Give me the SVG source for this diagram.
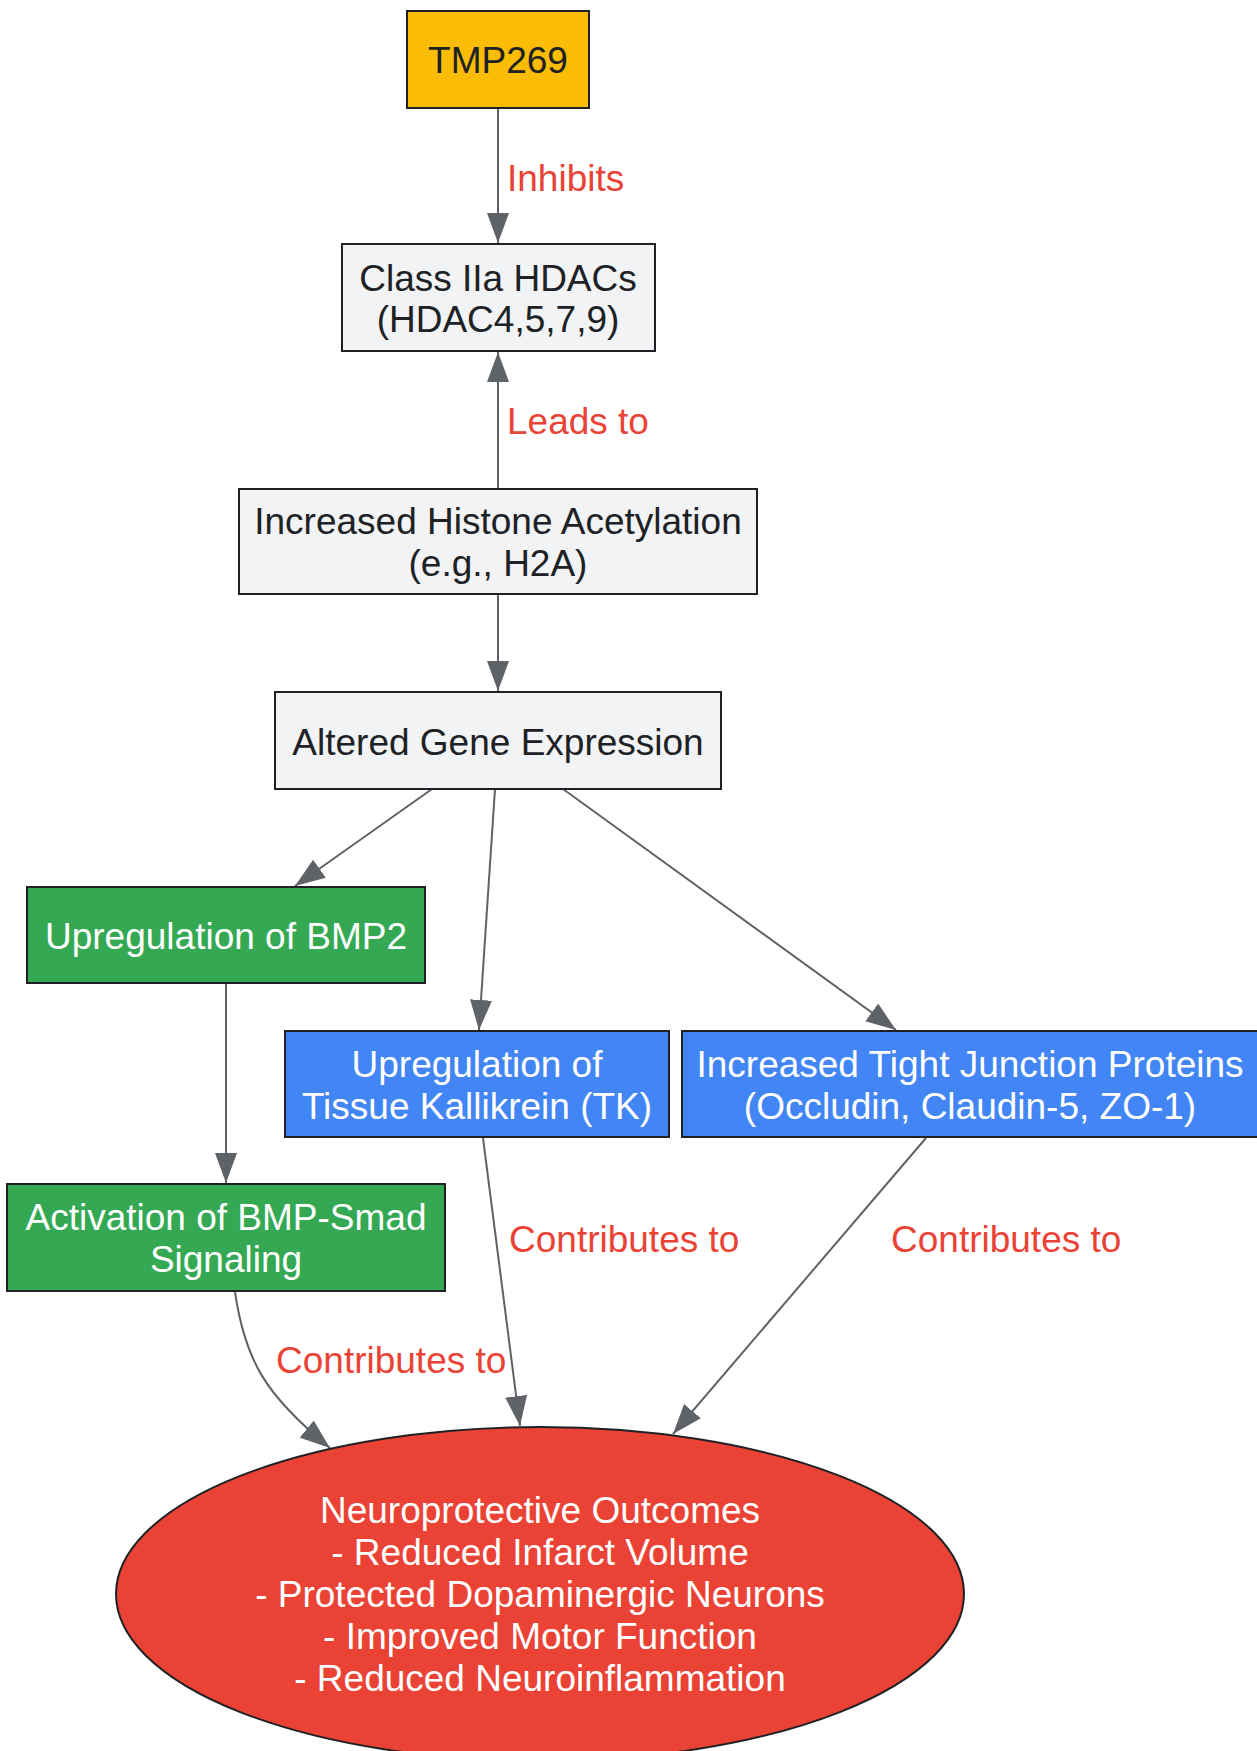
<svg xmlns="http://www.w3.org/2000/svg" width="1257" height="1751" viewBox="0 0 1257 1751">
<style>
text{font-family:"Liberation Sans",Arial,sans-serif;font-size:37px;text-anchor:middle}
.dk{fill:#202124}
.wt{fill:#ffffff}
.lbl{fill:#EA4335;text-anchor:start}
.nd{stroke:#202124;stroke-width:2}
.gray{fill:#F1F3F4}
.yel{fill:#FBBC05}
.grn{fill:#34A853}
.blu{fill:#4285F4}
.red{fill:#EA4335}
.edge{fill:none;stroke:#5F6368;stroke-width:2;marker-end:url(#ah)}
</style>
<defs>
<marker id="ah" markerUnits="userSpaceOnUse" markerWidth="30" markerHeight="22" refX="30" refY="11" orient="auto">
<path d="M0,0 L30,11 L0,22 z" fill="#5F6368"/>
</marker>
</defs>
<rect width="1257" height="1751" fill="#ffffff"/>
<g id="edges">
<path class="edge" d="M498,108 L498,243"/>
<path class="edge" d="M498,489 L498,352"/>
<path class="edge" d="M498,594 L498,691"/>
<path class="edge" d="M432,789 L295,886"/>
<path class="edge" d="M495,789 L479,1030"/>
<path class="edge" d="M563,789 L896,1030"/>
<path class="edge" d="M226,983 L226,1183"/>
<path class="edge" d="M235,1292 C245,1360 265,1395 330,1448"/>
<path class="edge" d="M483,1138 L520,1426"/>
<path class="edge" d="M926,1138 L673,1434"/>
<text class="lbl" x="507" y="191">Inhibits</text>
<text class="lbl" x="507" y="434">Leads to</text>
<text class="lbl" x="276" y="1373">Contributes to</text>
<text class="lbl" x="509" y="1252">Contributes to</text>
<text class="lbl" x="891" y="1252">Contributes to</text>
</g>
<g id="tmp269">
<rect class="nd yel" x="407" y="11" width="182" height="97"/>
<text class="dk" x="498" y="73">TMP269</text>
</g>
<g id="hdac">
<rect class="nd gray" x="342" y="244" width="313" height="107"/>
<text class="dk" x="498" y="291">Class IIa HDACs</text>
<text class="dk" x="498" y="332">(HDAC4,5,7,9)</text>
</g>
<g id="histone">
<rect class="nd gray" x="239" y="489" width="518" height="105"/>
<text class="dk" x="498" y="534">Increased Histone Acetylation</text>
<text class="dk" x="498" y="576">(e.g., H2A)</text>
</g>
<g id="gene">
<rect class="nd gray" x="275" y="692" width="446" height="97"/>
<text class="dk" x="498" y="755">Altered Gene Expression</text>
</g>
<g id="bmp2">
<rect class="nd grn" x="27" y="887" width="398" height="96"/>
<text class="wt" x="226" y="949">Upregulation of BMP2</text>
</g>
<g id="tk">
<rect class="nd blu" x="285" y="1031" width="384" height="106"/>
<text class="wt" x="477" y="1077">Upregulation of</text>
<text class="wt" x="477" y="1119">Tissue Kallikrein (TK)</text>
</g>
<g id="tj">
<rect class="nd blu" x="682" y="1031" width="576" height="106"/>
<text class="wt" x="970" y="1077">Increased Tight Junction Proteins</text>
<text class="wt" x="970" y="1119">(Occludin, Claudin-5, ZO-1)</text>
</g>
<g id="smad">
<rect class="nd grn" x="7" y="1184" width="438" height="107"/>
<text class="wt" x="226" y="1230">Activation of BMP-Smad</text>
<text class="wt" x="226" y="1272">Signaling</text>
</g>
<g id="outcomes">
<ellipse class="nd red" cx="540" cy="1594" rx="424" ry="167"/>
<text class="wt" x="540" y="1523">Neuroprotective Outcomes</text>
<text class="wt" x="540" y="1565">- Reduced Infarct Volume</text>
<text class="wt" x="540" y="1607">- Protected Dopaminergic Neurons</text>
<text class="wt" x="540" y="1649">- Improved Motor Function</text>
<text class="wt" x="540" y="1691">- Reduced Neuroinflammation</text>
</g>
</svg>
